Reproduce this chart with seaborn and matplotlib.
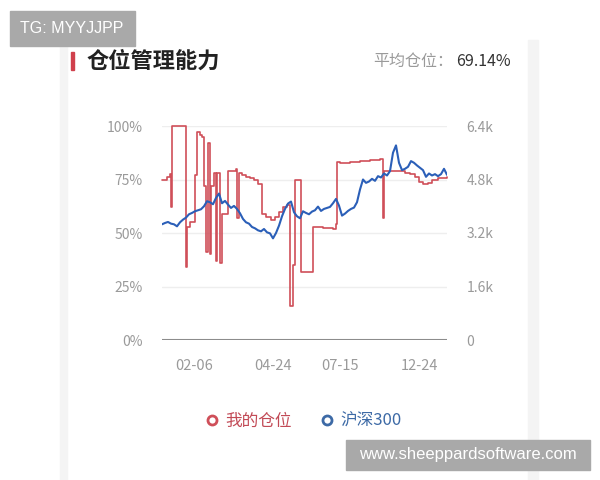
import numpy as np
import matplotlib.pyplot as plt
import seaborn as sns
from matplotlib.lines import Line2D
from matplotlib.patches import Rectangle

# x axis: trading-day index, 0 = first day shown
tick_days = [32, 111, 178, 258]
tick_labels = ["02-06", "04-24", "07-15", "12-24"]

# 我的仓位 (%), each value holds until the next change day
pos_days = [0, 5, 8, 9, 10, 24, 25, 28, 33, 35, 38, 40, 42, 44, 46, 48, 49, 52,
            54, 55, 58, 60, 66, 74, 75, 77, 80, 84, 88, 92, 96, 100, 104, 109,
            113, 117, 121, 125, 128, 131, 133, 139, 151, 161, 171, 174, 175,
            178, 188, 198, 208, 218, 221, 222, 236, 243, 248, 253, 257, 261,
            266, 270, 276, 285]
pos_pct = [75, 76, 77.5, 62, 100, 34, 53, 55, 77, 97, 96, 95, 72, 41, 92, 40, 72, 78,
           37, 78, 36, 59, 79, 80, 57, 78, 77, 76, 75.5, 75, 73, 59, 57.5, 56,
           57.5, 60, 62, 63, 16, 35, 75, 32, 53, 52.5, 52, 54, 83,
           82.5, 83, 83.5, 84, 84.5, 57, 79, 79, 78, 77.5, 76, 74, 73,
           73.5, 75, 75.5, 76]

# 沪深300 (thousands), every 3rd day
hs_days = list(range(0, 286, 3))
hs_k = [3.46, 3.50, 3.53, 3.48, 3.46, 3.40, 3.52, 3.60, 3.66, 3.76,
        3.80, 3.85, 3.88, 3.91, 4.00, 4.15, 4.12, 4.06, 4.25, 4.38,
        4.09, 4.16, 4.05, 3.95, 4.01, 3.92, 3.79, 3.62, 3.52, 3.48,
        3.38, 3.34, 3.28, 3.25, 3.32, 3.22, 3.19, 3.04, 3.20, 3.42,
        3.70, 3.92, 4.08, 4.14, 3.82, 3.70, 3.64, 3.85, 3.80, 3.76,
        3.84, 3.88, 3.99, 3.86, 3.92, 3.95, 3.98, 4.09, 4.22, 4.02,
        3.72, 3.78, 3.86, 3.92, 3.96, 4.12, 4.50, 4.80, 4.70, 4.74,
        4.82, 4.76, 4.90, 4.86, 4.98, 4.92, 5.05, 5.60, 5.82, 5.30,
        5.08, 5.12, 5.18, 5.35, 5.30, 5.22, 5.15, 5.08, 4.88, 4.98,
        4.92, 4.96, 4.90, 4.96, 5.12, 4.94]

red = "#cf4f59"
blue = "#2b5fb8"
grey = "#9a9a9a"

sns.set_style("white")
plt.rcParams["font.family"] = ["Noto Sans CJK SC", "DejaVu Sans"]

fig = plt.figure(figsize=(6, 4.8), dpi=100)

# faint card edges
fig.patches.append(Rectangle((60 / 600, 0), 7 / 600, 1 - 40 / 480, transform=fig.transFigure,
                             color="#f4f4f4", zorder=0))
fig.patches.append(Rectangle((528 / 600, 0), 10 / 600, 1 - 40 / 480, transform=fig.transFigure,
                             color="#f4f4f4", zorder=0))

ax = fig.add_axes([162 / 600, 1 - 340 / 480, 285 / 600, 214 / 480])
sns.lineplot(x=pos_days, y=pos_pct, ax=ax, color=red, linewidth=1.2,
             drawstyle="steps-post", clip_on=False)
ax.set_xlim(0, 285)
ax.set_ylim(0, 100)
ax.set_yticks([0, 25, 50, 75, 100])
ax.set_yticklabels(["0%", "25%", "50%", "75%", "100%"])
ax.set_xticks(tick_days)
ax.set_xticklabels(tick_labels)
ax.tick_params(axis="y", colors=grey, labelsize=10, length=0, pad=14)
ax.tick_params(axis="x", colors=grey, labelsize=10.5, length=0, pad=14)
for v in [25, 50, 75, 100]:
    ax.axhline(v, color="#eeeeee", linewidth=1, zorder=0)
ax.axhline(0, color="#8c8c8c", linewidth=1.5, zorder=0)
for s in ax.spines.values():
    s.set_visible(False)
ax.set_xlabel("")
ax.set_ylabel("")

ax2 = ax.twinx()
sns.lineplot(x=hs_days, y=hs_k, ax=ax2, color=blue, linewidth=1.5)
ax2.set_ylim(0, 6.4)
ax2.set_yticks([0, 1.6, 3.2, 4.8, 6.4])
ax2.set_yticklabels(["0", "1.6k", "3.2k", "4.8k", "6.4k"])
ax2.tick_params(axis="y", colors=grey, labelsize=10, length=0, pad=14)
for s in ax2.spines.values():
    s.set_visible(False)
ax2.set_ylabel("")

# header
fig.patches.append(Rectangle((71 / 600, 1 - 70 / 480), 3 / 600, 18 / 480,
                             transform=fig.transFigure, color="#d0404c"))
fig.text(87 / 600, 1 - 61 / 480, "仓位管理能力", fontsize=16, fontweight="bold",
         color="#222222", va="center")
fig.text(453 / 600, 1 - 61 / 480, "平均仓位：", fontsize=11.5, color="#9a9a9a",
         va="center", ha="right")
fig.text(511 / 600, 1 - 61 / 480, "69.14%", fontsize=11.5, color="#333333",
         va="center", ha="right")

# legend
handles = [Line2D([], [], marker="o", linestyle="none", markersize=6.5, markeredgewidth=2,
                  markerfacecolor="white", markeredgecolor=red),
           Line2D([], [], marker="o", linestyle="none", markersize=6.5, markeredgewidth=2,
                  markerfacecolor="white", markeredgecolor="#3d6aa6")]
fig.legend(handles, ["我的仓位", "沪深300"], loc="center", ncol=2, frameon=False,
           bbox_to_anchor=(0.505, 1 - 421 / 480), fontsize=12, handletextpad=0.3,
           columnspacing=1.6, handlelength=1.0, labelcolor=["#c24a56", "#3d6aa6"])

# watermarks
fig.patches.append(Rectangle((10 / 600, 1 - 46 / 480), 125 / 600, 35 / 480,
                             transform=fig.transFigure, color="#a9a9a9"))
fig.text(72 / 600, 1 - 28.5 / 480, "TG: MYYJJPP", fontsize=11.5, color="white",
         ha="center", va="center", family="Liberation Sans")
fig.patches.append(Rectangle((346 / 600, 1 - 470 / 480), 244 / 600, 30 / 480,
                             transform=fig.transFigure, color="#a9a9a9"))
fig.text(468 / 600, 1 - 455 / 480, "www.sheeppardsoftware.com", fontsize=12,
         color="white", ha="center", va="center", family="Liberation Sans")

fig.savefig("out.png", dpi=100)
